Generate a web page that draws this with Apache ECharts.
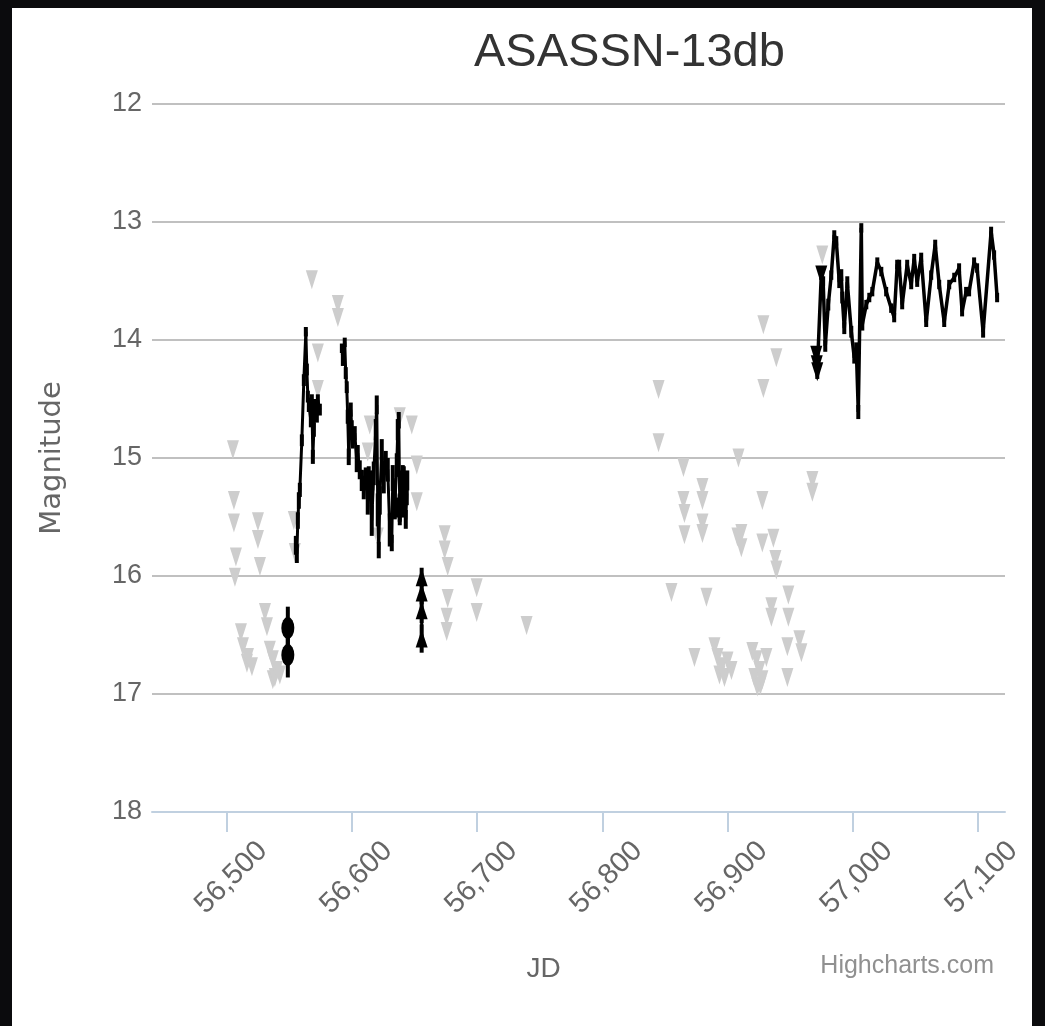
<!DOCTYPE html>
<html>
<head>
<meta charset="utf-8">
<title>ASASSN-13db light curve</title>
<script src="https://cdn.jsdelivr.net/npm/echarts@6/dist/echarts.min.js"></script>
<style>
  html, body { margin: 0; padding: 0; width: 1045px; height: 1026px; overflow: hidden; background: #0b0b0d; }
  #card { position: absolute; left: 12px; top: 8px; width: 1020px; height: 1018px; background: #ffffff; border-radius: 6px 6px 0 0; }
  #chart { width: 100%; height: 100%; }
</style>
</head>
<body>
<div id="card"><div id="chart"></div></div>
<script>
// ASAS-SN photometry of ASASSN-13db. JD is HJD - 2400000, magnitudes in V.

const chartTitle = 'ASASSN-13db';
const xTickValues = [56500, 56600, 56700, 56800, 56900, 57000, 57100];
const yTickValues = [12, 13, 14, 15, 16, 17, 18];

// Non-detections: [JD, limiting magnitude]
const upperLimits = [
  [56504.7, 14.93], [56505.5, 15.36], [56505.5, 15.55], [56507.1, 15.84], [56506.3, 16.01],
  [56511.1, 16.48], [56512.7, 16.60], [56515.9, 16.74], [56516.7, 16.69], [56519.9, 16.77],
  [56524.7, 15.54], [56524.7, 15.69], [56526.3, 15.92], [56530.3, 16.31], [56531.9, 16.43],
  [56534.2, 16.63], [56536.6, 16.71], [56536.6, 16.88], [56538.2, 16.86], [56539.8, 16.80],
  [56542.2, 16.84], [56553.4, 15.53], [56554.2, 15.80],
  [56567.8, 13.49], [56588.6, 13.70], [56588.6, 13.81], [56572.6, 14.11], [56572.6, 14.42],
  [56638.1, 14.65], [56647.7, 14.72], [56614.1, 14.72], [56612.5, 14.95], [56651.7, 15.06],
  [56651.7, 15.37], [56620.5, 15.67],
  [56674.0, 15.65], [56674.0, 15.78], [56676.4, 15.92], [56676.4, 16.19], [56675.6, 16.35],
  [56675.6, 16.47], [56699.6, 16.10], [56699.6, 16.31], [56739.5, 16.42],
  [56845.0, 14.42], [56845.0, 14.87], [56855.3, 16.14], [56864.9, 15.08], [56864.9, 15.36],
  [56865.7, 15.47], [56865.7, 15.65], [56873.7, 16.69], [56880.1, 15.25], [56880.1, 15.36],
  [56880.1, 15.55], [56880.1, 15.64], [56883.3, 16.18], [56889.7, 16.60], [56892.1, 16.69],
  [56893.7, 16.84], [56895.3, 16.77], [56897.7, 16.86], [56900.1, 16.72], [56903.3, 16.80],
  [56908.1, 15.67], [56908.9, 15.00], [56911.2, 15.64], [56911.2, 15.76], [56920.0, 16.64],
  [56921.6, 16.86], [56923.2, 16.71], [56924.0, 16.94], [56925.6, 16.80], [56926.4, 16.93],
  [56928.0, 15.36], [56928.0, 15.72], [56928.0, 16.88], [56928.8, 13.87], [56928.8, 14.41],
  [56931.2, 16.69], [56935.2, 16.26], [56935.2, 16.35], [56936.8, 15.68], [56938.4, 15.86],
  [56939.2, 14.15], [56939.2, 15.95], [56948.0, 16.60], [56948.0, 16.86], [56948.8, 16.16],
  [56948.8, 16.35], [56957.6, 16.54], [56959.2, 16.65], [56968.0, 15.19], [56968.0, 15.29],
  [56975.9, 13.28]
];

// Detections: [JD, magnitude, error]
const preOutburst = [
  [56548.6, 16.44, 0.18], [56548.6, 16.67, 0.19]
];

const outburst1 = [
  [56555.0, 15.74, 0.08], [56555.8, 15.81, 0.08], [56556.6, 15.53, 0.07], [56557.4, 15.36, 0.07],
  [56558.2, 15.27, 0.06], [56559.8, 14.85, 0.05], [56561.4, 14.34, 0.05], [56563.0, 13.93, 0.04],
  [56563.8, 14.25, 0.05], [56564.6, 14.48, 0.05], [56565.4, 14.55, 0.06], [56567.0, 14.68, 0.06],
  [56567.8, 14.51, 0.05], [56568.6, 14.99, 0.06], [56569.4, 14.76, 0.06], [56570.2, 14.55, 0.05],
  [56571.8, 14.64, 0.06], [56572.6, 14.51, 0.05], [56574.2, 14.59, 0.05]
];

const outburst2 = [
  [56591.8, 14.07, 0.04], [56592.6, 14.17, 0.05], [56594.1, 14.02, 0.04], [56594.9, 14.28, 0.05],
  [56595.7, 14.40, 0.05], [56596.5, 14.65, 0.06], [56597.3, 14.99, 0.07], [56598.9, 14.59, 0.06],
  [56599.7, 14.74, 0.06], [56600.5, 14.85, 0.07], [56602.1, 14.79, 0.06], [56603.7, 15.02, 0.10],
  [56604.5, 14.96, 0.07], [56606.1, 15.10, 0.08], [56607.7, 15.19, 0.09], [56609.3, 15.25, 0.10],
  [56610.9, 15.17, 0.09], [56612.5, 15.36, 0.12], [56614.1, 15.23, 0.10], [56615.7, 15.53, 0.13],
  [56617.3, 15.13, 0.10], [56618.9, 14.76, 0.09], [56619.7, 14.55, 0.08], [56620.5, 15.44, 0.14],
  [56621.3, 15.78, 0.07], [56622.1, 15.36, 0.12], [56623.7, 14.93, 0.09], [56625.3, 15.19, 0.11],
  [56626.9, 15.04, 0.10], [56628.5, 15.10, 0.10], [56630.1, 15.61, 0.14], [56631.7, 15.72, 0.07],
  [56632.5, 15.17, 0.11], [56634.1, 15.40, 0.12], [56635.7, 15.06, 0.10], [56636.5, 14.76, 0.09],
  [56637.3, 14.68, 0.07], [56638.1, 15.44, 0.13], [56639.7, 15.27, 0.12], [56640.5, 15.16, 0.10],
  [56641.3, 15.38, 0.12], [56642.9, 15.52, 0.08], [56643.7, 15.30, 0.10]
];

const squareObs = [
  [56613.3, 15.19, 0.12], [56638.1, 15.42, 0.12], [56641.3, 15.19, 0.12]
];

const lateFade = [
  [56655.6, 16.01, 0.08], [56655.6, 16.14, 0.10], [56655.6, 16.29, 0.11], [56655.6, 16.53, 0.12]
];

const brightPhase = [
  [56971.1, 14.13, 0.06], [56971.9, 14.27, 0.06], [56975.1, 13.45, 0.04], [56976.6, 13.50, 0.04],
  [56978.3, 14.05, 0.05], [56980.7, 13.70, 0.05], [56983.1, 13.45, 0.04], [56985.5, 13.11, 0.04],
  [56987.1, 13.16, 0.04], [56989.5, 13.51, 0.05], [56991.1, 13.45, 0.05], [56991.9, 13.64, 0.05],
  [56993.5, 13.90, 0.05], [56995.9, 13.51, 0.05], [56999.1, 13.93, 0.05], [57001.5, 14.15, 0.05],
  [57003.1, 14.07, 0.05], [57004.7, 14.61, 0.06], [57007.1, 13.05, 0.04], [57007.9, 13.87, 0.05],
  [57011.1, 13.70, 0.04], [57013.5, 13.64, 0.04], [57015.9, 13.59, 0.04], [57019.9, 13.34, 0.04],
  [57023.1, 13.42, 0.04], [57027.0, 13.59, 0.04], [57031.0, 13.73, 0.04], [57033.4, 13.81, 0.04],
  [57035.8, 13.36, 0.04], [57037.4, 13.36, 0.04], [57039.8, 13.70, 0.04], [57043.8, 13.36, 0.04],
  [57047.0, 13.53, 0.04], [57049.4, 13.31, 0.04], [57051.8, 13.51, 0.04], [57055.0, 13.30, 0.04],
  [57059.0, 13.85, 0.04], [57063.0, 13.45, 0.04], [57066.2, 13.19, 0.04], [57069.4, 13.53, 0.04],
  [57073.4, 13.85, 0.04], [57077.4, 13.53, 0.04], [57081.4, 13.47, 0.04], [57085.3, 13.39, 0.04],
  [57087.7, 13.76, 0.04], [57090.9, 13.59, 0.04], [57093.3, 13.59, 0.04], [57097.3, 13.34, 0.04],
  [57099.7, 13.39, 0.04], [57104.5, 13.93, 0.05], [57110.9, 13.08, 0.04], [57113.3, 13.28, 0.04],
  [57115.7, 13.64, 0.04]
];

const brightStart = [
  [56975.1, 13.45, 0.04], [56971.1, 14.13, 0.06], [56971.5, 14.21, 0.06], [56971.9, 14.27, 0.06]
];

// ---------------------------------------------------------------------------
const FONT = '"Liberation Sans", Arial, sans-serif';
const WIDE_FONT = '"DejaVu Sans", Verdana, sans-serif';
const BLACK = '#000000';
const LIMIT_GREY = '#cdcdcd';

const allDetections = [].concat(preOutburst, outburst1, outburst2, squareObs, lateFade, brightPhase);

function pairs(rows) { return rows.map(r => [r[0], r[1]]); }

function errorBarItem(params, api) {
  const x = api.value(0);
  const m = api.value(1);
  const e = api.value(2);
  const top = api.coord([x, m - e]);
  const bottom = api.coord([x, m + e]);
  return {
    type: 'line',
    shape: { x1: top[0], y1: top[1], x2: bottom[0], y2: bottom[1] },
    style: { stroke: BLACK, lineWidth: 4 }
  };
}

function lineSeries(rows, width) {
  return {
    type: 'line',
    data: pairs(rows),
    showSymbol: false,
    symbol: 'none',
    lineStyle: { color: BLACK, width: width },
    itemStyle: { color: BLACK },
    z: 4,
    silent: true
  };
}

function markerSeries(rows, symbol, size, rotate) {
  return {
    type: 'scatter',
    data: pairs(rows),
    symbol: symbol,
    symbolSize: size,
    symbolRotate: rotate || 0,
    itemStyle: { color: BLACK, opacity: 1 },
    z: 5,
    silent: true
  };
}

const chart = echarts.init(document.getElementById('chart'), null, { renderer: 'canvas' });

chart.setOption({
  animation: false,
  backgroundColor: '#ffffff',
  textStyle: { fontFamily: FONT },
  title: [
    {
      text: chartTitle,
      left: 457,
      top: 17,
      textStyle: { fontFamily: FONT, fontSize: 47, fontWeight: 'normal', color: '#333333' }
    },
    {
      text: 'Highcharts.com',
      right: 33,
      top: 941,
      textStyle: { fontFamily: FONT, fontSize: 25, fontWeight: 'normal', color: '#909090' }
    }
  ],
  grid: { left: 140, right: 27, top: 96, bottom: 214, containLabel: false },
  xAxis: {
    type: 'value',
    min: 56440,
    max: 57122,
    splitNumber: 7,
    name: 'JD',
    nameLocation: 'middle',
    nameGap: 143,
    nameTextStyle: { fontFamily: FONT, fontSize: 28, color: '#666666', padding: [0, 70, 0, 0] },
    axisLine: { onZero: false, lineStyle: { color: '#c0d0e0', width: 2 } },
    axisTick: { show: true, length: 20, lineStyle: { color: '#c0d0e0', width: 2 } },
    splitLine: { show: false },
    axisLabel: {
      showMinLabel: false,
      showMaxLabel: false,
      rotate: 45,
      align: 'center',
      verticalAlign: 'middle',
      margin: 70,
      padding: [0, 0, 0, 12],
      fontFamily: FONT,
      fontSize: 29,
      color: '#666666',
      formatter: v => (xTickValues.indexOf(v) >= 0 ? v.toLocaleString('en-US') : '')
    }
  },
  yAxis: {
    type: 'value',
    inverse: true,
    min: yTickValues[0],
    max: yTickValues[yTickValues.length - 1],
    interval: 1,
    name: 'Magnitude',
    nameLocation: 'middle',
    nameGap: 85,
    nameTextStyle: { fontFamily: WIDE_FONT, fontSize: 29, color: '#666666' },
    axisLine: { show: false },
    axisTick: { show: false },
    splitLine: { show: true, lineStyle: { color: '#c0c0c0', width: 2 } },
    axisLabel: { margin: 10, fontFamily: FONT, fontSize: 27, color: '#666666' }
  },
  series: [
    {
      name: 'Upper limits',
      type: 'scatter',
      data: upperLimits,
      symbol: 'triangle',
      symbolRotate: 180,
      symbolSize: [12, 19],
      itemStyle: { color: LIMIT_GREY, opacity: 1 },
      z: 2,
      silent: true
    },
    {
      name: 'Errors',
      type: 'custom',
      data: allDetections,
      renderItem: errorBarItem,
      z: 3,
      silent: true
    },
    lineSeries(outburst1, 3),
    lineSeries(outburst2, 3),
    lineSeries(lateFade, 3),
    lineSeries(brightPhase, 3.5),
    markerSeries(preOutburst, 'circle', [13, 22]),
    markerSeries(squareObs, 'rect', [11, 20]),
    markerSeries(lateFade, 'triangle', [12, 18]),
    markerSeries(brightStart, 'triangle', [12, 19], 180)
  ]
});
</script>
</body>
</html>
